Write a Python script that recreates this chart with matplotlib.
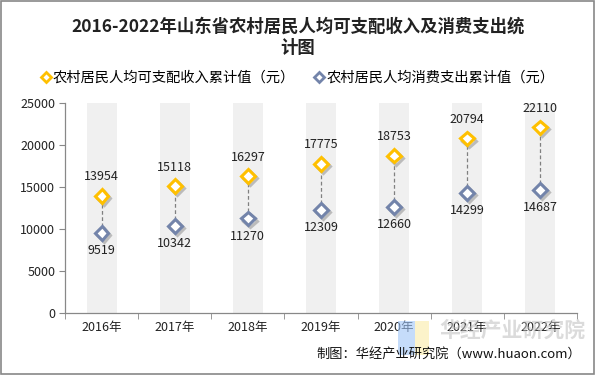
import matplotlib
matplotlib.use("Agg")
import matplotlib.pyplot as plt
from matplotlib.patches import Rectangle
from matplotlib.lines import Line2D
import matplotlib.patheffects as pe

plt.rcParams['font.family'] = ['Noto Sans CJK SC', 'DejaVu Sans']

years = ["2016年", "2017年", "2018年", "2019年", "2020年", "2021年", "2022年"]
income = [13954, 15118, 16297, 17775, 18753, 20794, 22110]
expense = [9519, 10342, 11270, 12309, 12660, 14299, 14687]
yticks = [0, 5000, 10000, 15000, 20000, 25000]

title = "2016-2022年山东省农村居民人均可支配收入及消费支出统\n计图"
label_income = "农村居民人均可支配收入累计值（元）"
label_expense = "农村居民人均消费支出累计值（元）"
source = "制图：华经产业研究院（www.huaon.com）"

c_income = "#FFC000"
c_expense = "#7384AA"

fig = plt.figure(figsize=(5.96, 3.75), dpi=100)
ax = fig.add_axes([0.109, 0.165, 0.859, 0.56])

n = len(years)
x = list(range(n))
ax.set_xlim(-0.5, n - 0.5)
ax.set_ylim(0, 25000)

for xi in x:
    ax.add_patch(Rectangle((xi - 0.205, 0), 0.41, 25000, facecolor="#F0F0F0",
                           edgecolor="none", zorder=0))

for xi, a, b in zip(x, income, expense):
    ax.plot([xi, xi], [b, a], color="#808080", lw=0.9, ls=(0, (3, 2)), zorder=2)

shadow = [pe.SimpleLineShadow(offset=(1.5, -1.5), shadow_color="#888888", alpha=0.5), pe.Normal()]
ax.plot(x, income, ls="none", marker="D", ms=7, mfc="white", mec=c_income, mew=2.2,
        zorder=3, path_effects=shadow)
ax.plot(x, expense, ls="none", marker="D", ms=7, mfc="white", mec=c_expense, mew=2.2,
        zorder=3, path_effects=shadow)

for xi, a, b in zip(x, income, expense):
    ax.annotate(f"{a}", (xi, a), xytext=(0, 9), textcoords="offset points",
                ha="center", va="bottom", fontsize=9, color="#222222")
    ax.annotate(f"{b}", (xi, b), xytext=(0, -8), textcoords="offset points",
                ha="center", va="top", fontsize=9, color="#222222")

ax.set_yticks(yticks)
ax.set_yticklabels([str(v) for v in yticks], fontsize=9, color="#222222")
ax.set_xticks(x)
ax.set_xticklabels(years, fontsize=9, color="#222222")
ax.set_xticks([i - 0.5 for i in range(n + 1)], minor=True)
ax.tick_params(axis="x", which="major", length=0, pad=6)
ax.tick_params(axis="x", which="minor", length=4, color="#888888")
ax.tick_params(axis="y", length=4, color="#888888", pad=3)
for s in ["top", "right"]:
    ax.spines[s].set_visible(False)
for s in ["left", "bottom"]:
    ax.spines[s].set_color("#888888")
    ax.spines[s].set_linewidth(0.9)

fig.text(0.5, 0.9, title, ha="center", va="center", fontsize=12.5,
         fontweight="bold", color="#222222", linespacing=1.25)

h1 = Line2D([], [], ls="none", marker="D", ms=5, mfc="white", mec=c_income, mew=2)
h2 = Line2D([], [], ls="none", marker="D", ms=5, mfc="white", mec=c_expense, mew=2)
fig.legend([h1, h2], [label_income, label_expense], loc="center", bbox_to_anchor=(0.5, 0.793),
           ncol=2, frameon=False, fontsize=10.3, handlelength=0.6, handletextpad=0.2,
           columnspacing=1.4)

# watermark logo
fig.add_artist(Rectangle((0.667, 0.053), 0.03, 0.09, transform=fig.transFigure,
                         facecolor="#9FC5F8", edgecolor="none", alpha=0.6))
fig.add_artist(Rectangle((0.697, 0.053), 0.022, 0.09, transform=fig.transFigure,
                         facecolor="#FCEFB4", edgecolor="none", alpha=0.7))
fig.text(0.86, 0.12, "华经产业研究院", ha="center", va="center", fontsize=15,
         fontweight="bold", color="#BEBEBE", alpha=0.55)
fig.text(0.975, 0.055, source, ha="right", va="center", fontsize=9.5, color="#111111")

fig.add_artist(Rectangle((0.002, 0.003), 0.995, 0.994, transform=fig.transFigure,
                         fill=False, edgecolor="#888888", lw=1.2))

fig.savefig("out.png", dpi=100)
